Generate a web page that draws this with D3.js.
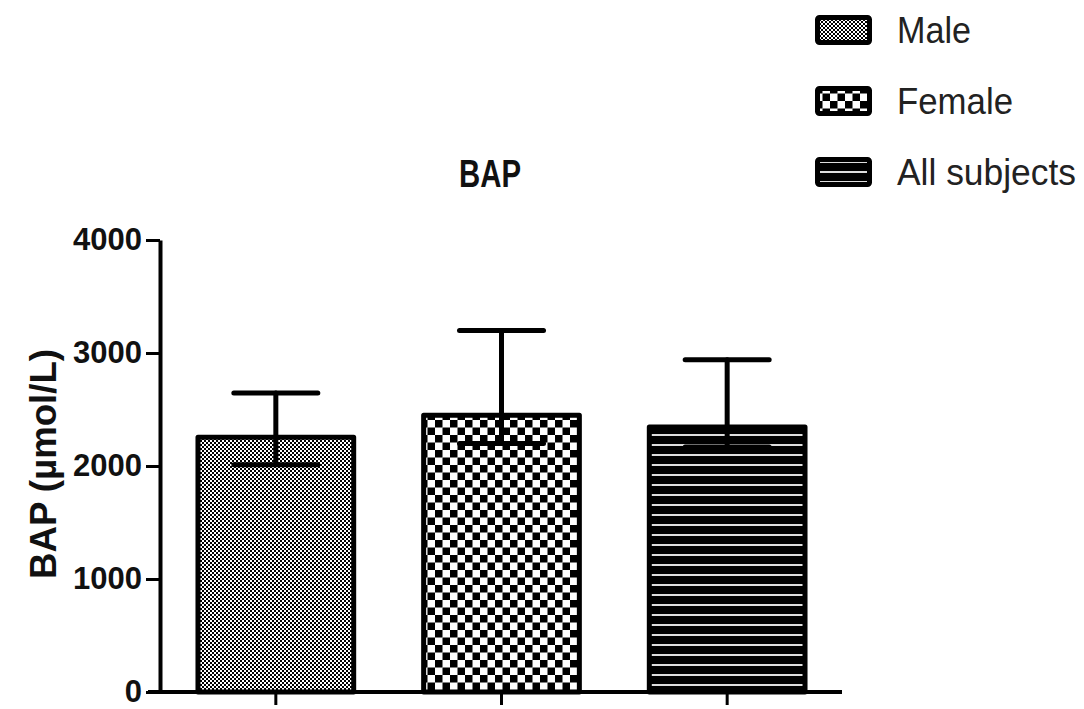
<!DOCTYPE html>
<html>
<head>
<meta charset="utf-8">
<script src="https://cdn.jsdelivr.net/npm/d3@7"></script>
<style>
  body { margin: 0; background: #fff; }
  svg { display: block; }
</style>
</head>
<body>
<svg id="chart" width="1084" height="709"></svg>
<script>
// values
const groups = ['Male', 'Female', 'All subjects'];
const means = [2255, 2450, 2345];
const errHigh = [2646, 3200, 2940];
const errLow = [2010, 2200, 2168];
const yTicks = [0, 1000, 2000, 3000, 4000];

const svg = d3.select('#chart');
const font = '"Liberation Sans", Arial, sans-serif';

const y = d3.scaleLinear().domain([0, 4000]).range([692, 240]);
const x = d3.scaleBand().domain(groups).range([163, 840]).paddingInner(0.31).paddingOuter(0.155);

// fill patterns
const defs = svg.append('defs');
{
    const p = defs.append('pattern').attr('id', 'pat0')
        .attr('patternUnits', 'userSpaceOnUse').attr('width', 4).attr('height', 4);
    p.append('rect').attr('width', 4).attr('height', 4).attr('fill', '#fff');
    p.append('rect').attr('width', 2).attr('height', 2).attr('fill', '#000');
    p.append('rect').attr('x', 2).attr('y', 2).attr('width', 2).attr('height', 2).attr('fill', '#000');
}
{
    const p = defs.append('pattern').attr('id', 'pat1')
        .attr('patternUnits', 'userSpaceOnUse').attr('width', 15).attr('height', 15);
    p.append('rect').attr('width', 15).attr('height', 15).attr('fill', '#fff');
    p.append('rect').attr('width', 7.5).attr('height', 7.5).attr('fill', '#000');
    p.append('rect').attr('x', 7.5).attr('y', 7.5).attr('width', 7.5).attr('height', 7.5).attr('fill', '#000');
}
{
    const p = defs.append('pattern').attr('id', 'pat2')
        .attr('patternUnits', 'userSpaceOnUse').attr('width', 10).attr('height', 10);
    p.append('rect').attr('width', 10).attr('height', 10).attr('fill', '#000');
    p.append('rect').attr('y', 4).attr('width', 10).attr('height', 2).attr('fill', '#ddd');
}

// bars
svg.append('g').selectAll('rect')
    .data(groups)
    .enter().append('rect')
    .attr('x', (d) => x(d))
    .attr('y', (d, i) => y(means[i]))
    .attr('width', x.bandwidth())
    .attr('height', (d, i) => y(0) - y(means[i]))
    .attr('fill', (d, i) => `url(#pat${i})`)
    .attr('stroke', '#000')
    .attr('stroke-width', 5)
    .attr('stroke-linejoin', 'round');

// error bars
const capW = 42;
const err = svg.append('g').attr('stroke', '#000').attr('stroke-width', 5).attr('stroke-linecap', 'round');
groups.forEach((g, i) => {
    const cx = x(g) + x.bandwidth() / 2;
    err.append('line').attr('x1', cx).attr('x2', cx).attr('y1', y(errHigh[i])).attr('y2', y(errLow[i]));
    err.append('line').attr('x1', cx - capW).attr('x2', cx + capW).attr('y1', y(errHigh[i])).attr('y2', y(errHigh[i]));
    err.append('line').attr('x1', cx - capW).attr('x2', cx + capW).attr('y1', y(errLow[i])).attr('y2', y(errLow[i]));
});

// y axis
const yAxis = svg.append('g')
    .attr('transform', 'translate(160,0)')
    .call(d3.axisLeft(y).tickValues(yTicks).tickFormat(d3.format('d'))
        .tickSize(14).tickSizeOuter(0).tickPadding(4));
yAxis.select('.domain').attr('stroke-width', 4);
yAxis.selectAll('.tick line').attr('stroke-width', 3);
yAxis.selectAll('.tick text')
    .attr('font-family', font).attr('font-weight', 'bold').attr('font-size', 31).attr('fill', '#111');

// x axis
const xAxis = svg.append('g')
    .attr('transform', 'translate(0,692)')
    .call(d3.axisBottom(x).tickSize(13).tickSizeOuter(0).tickFormat(''));
xAxis.select('.domain').remove();
xAxis.selectAll('.tick line').attr('stroke-width', 3);
svg.append('line')
    .attr('x1', 148).attr('x2', 842).attr('y1', 692).attr('y2', 692)
    .attr('stroke', '#000').attr('stroke-width', 4);

// titles
svg.append('text')
    .attr('x', 490).attr('y', 187)
    .attr('text-anchor', 'middle')
    .attr('font-family', font).attr('font-weight', 'bold').attr('font-size', 38)
    .attr('textLength', 62).attr('lengthAdjust', 'spacingAndGlyphs')
    .attr('fill', '#111')
    .text('BAP');

svg.append('text')
    .attr('transform', 'translate(56,464) rotate(-90)')
    .attr('text-anchor', 'middle')
    .attr('font-family', font).attr('font-weight', 'bold').attr('font-size', 36)
    .attr('textLength', 230).attr('lengthAdjust', 'spacingAndGlyphs')
    .attr('fill', '#111')
    .text('BAP (\u00b5mol/L)');

// legend
const legendY = [15, 86, 157];
const legend = svg.append('g').selectAll('g')
    .data(groups)
    .enter().append('g')
    .attr('transform', (d, i) => `translate(815,${legendY[i]})`);
legend.append('rect')
    .attr('x', 2.5).attr('y', 2.5)
    .attr('width', 52).attr('height', 25)
    .attr('fill', (d, i) => `url(#pat${i})`)
    .attr('stroke', '#000').attr('stroke-width', 5)
    .attr('rx', 2);
legend.append('text')
    .attr('x', 82).attr('y', 28)
    .attr('font-family', font).attr('font-size', 36)
    .attr('textLength', (d) => ({'Male': 74, 'Female': 116, 'All subjects': 179})[d])
    .attr('lengthAdjust', 'spacingAndGlyphs')
    .attr('fill', '#222')
    .text((d) => d);
</script>
</body>
</html>
